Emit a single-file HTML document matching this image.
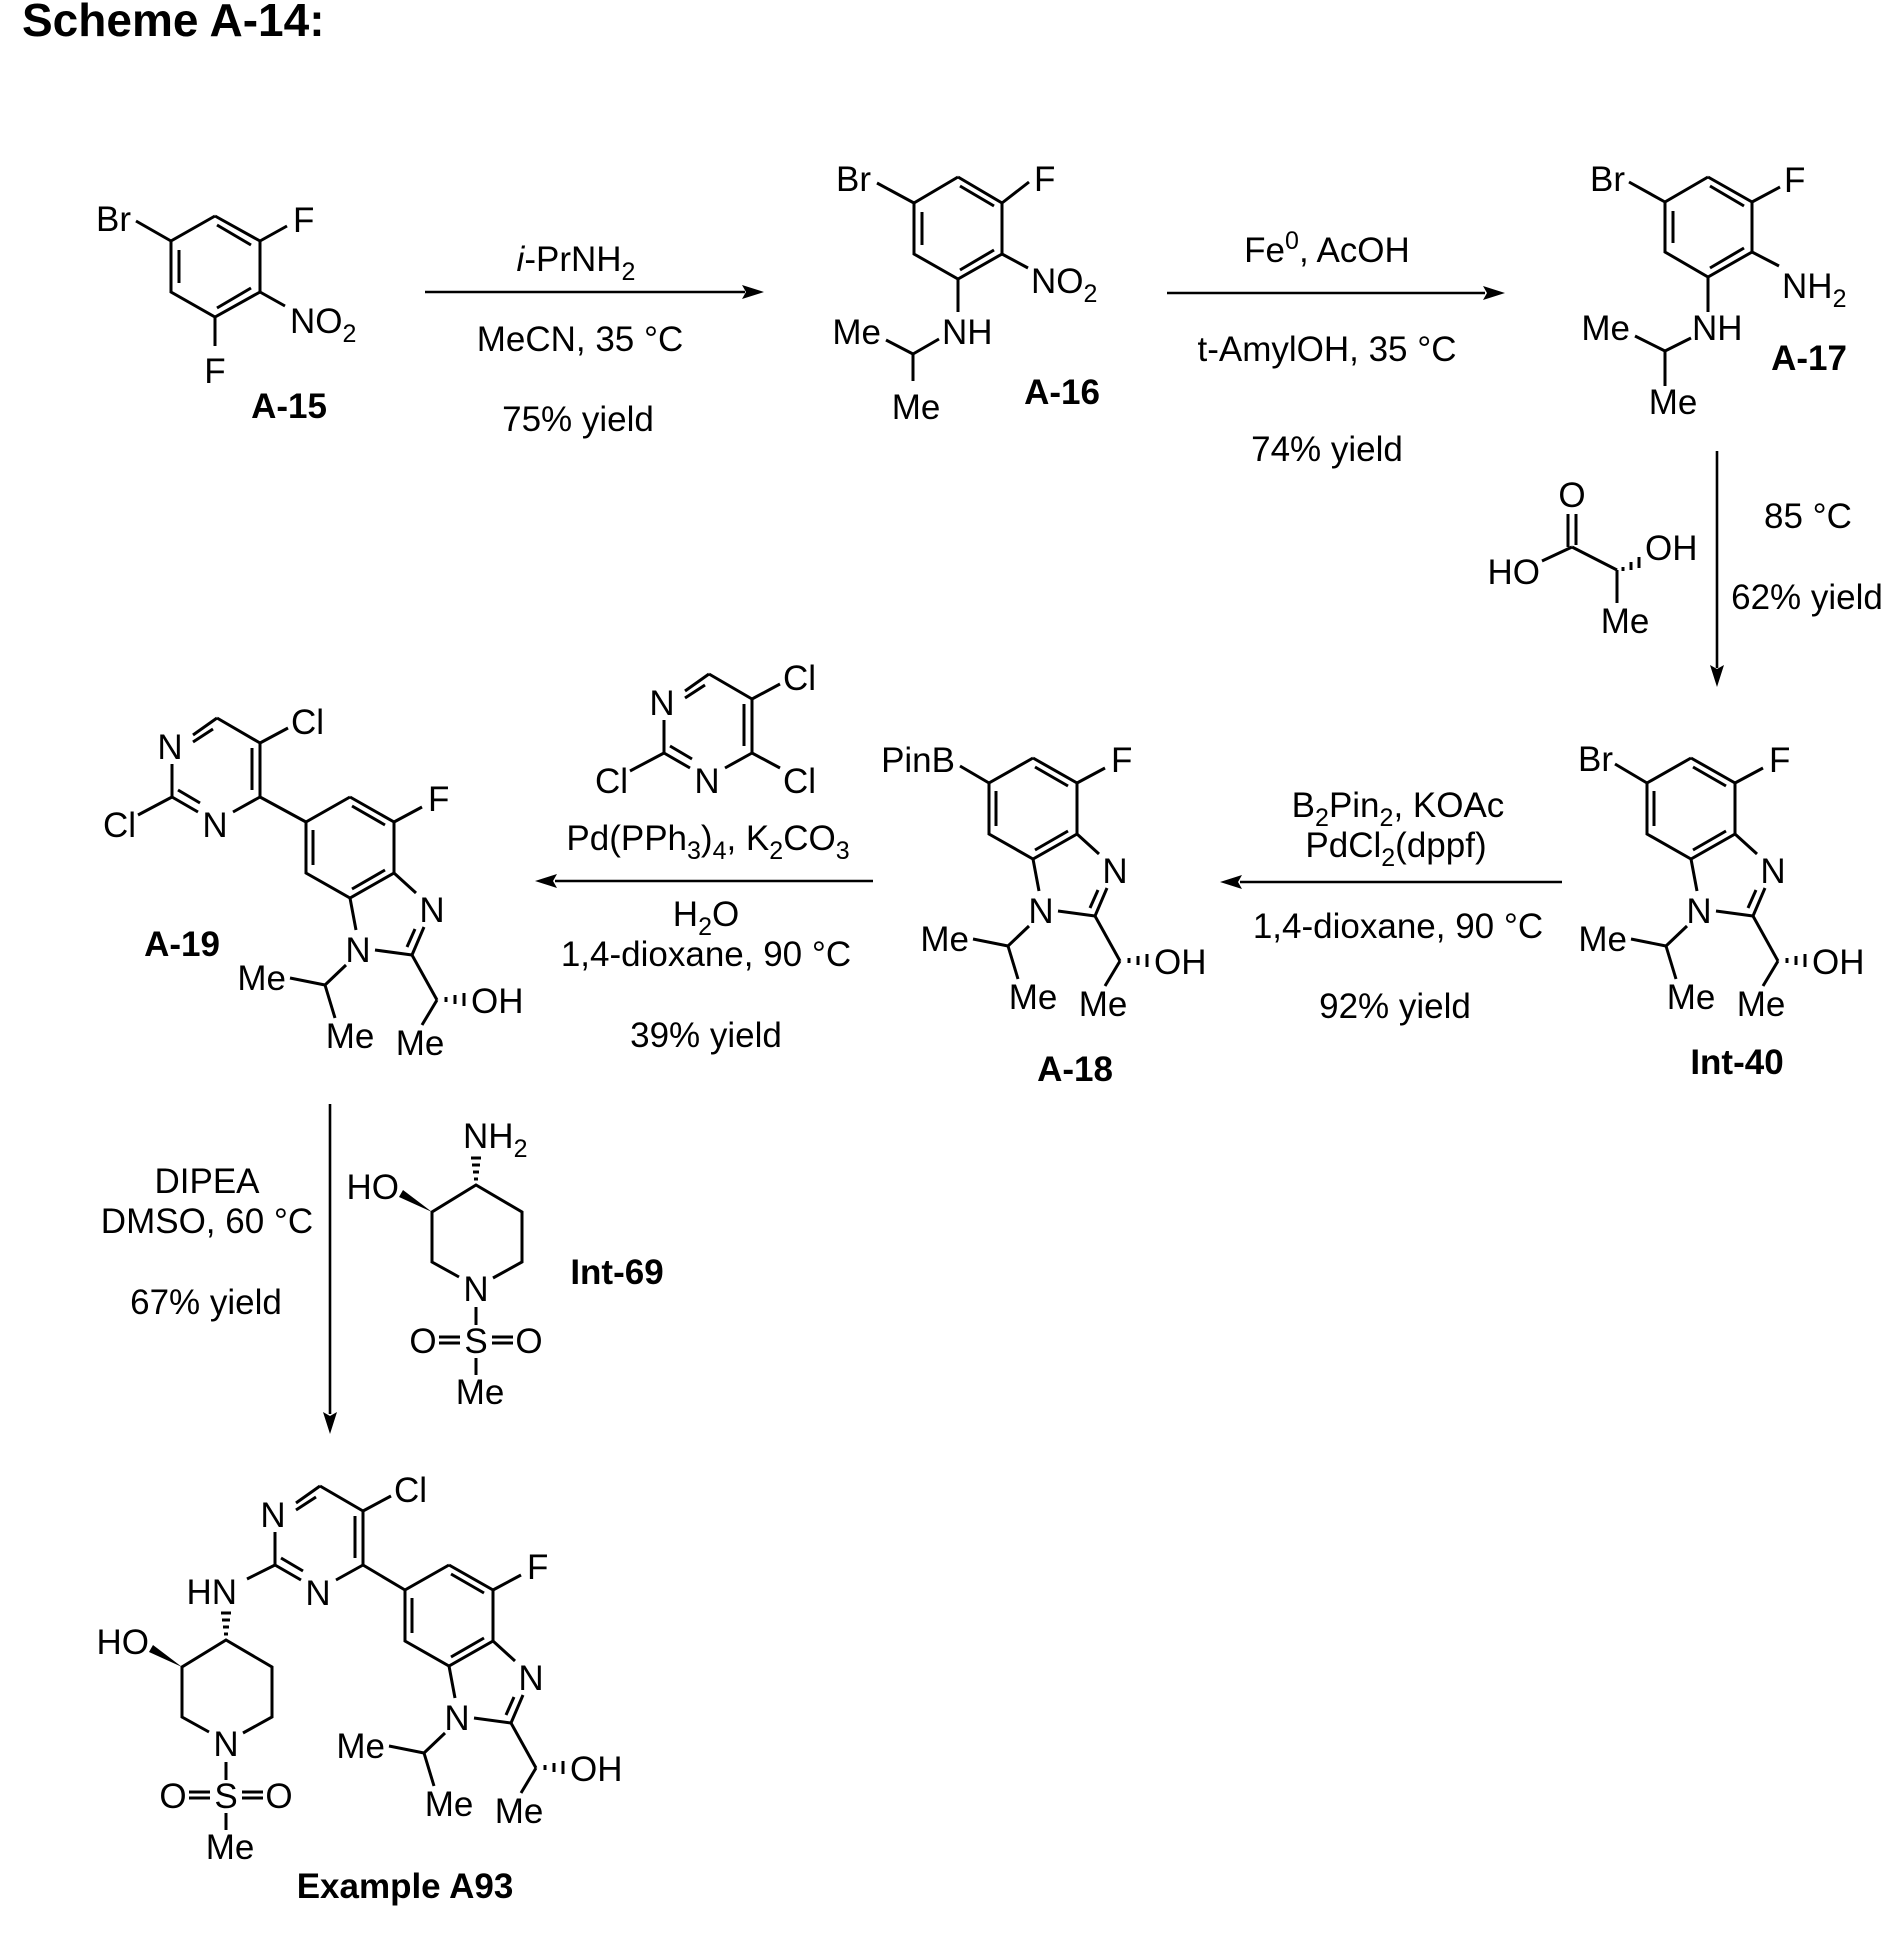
<!DOCTYPE html>
<html><head><meta charset="utf-8"><style>
html,body{margin:0;padding:0;background:#fff;}
svg{display:block;}
text{font-family:"Liberation Sans",Arial,sans-serif;font-size:35px;fill:#000;}
.b{font-weight:bold;}
.sub{font-size:25px;}
line,polyline{stroke:#000;stroke-width:3;fill:none;stroke-linecap:butt;}
.ar{stroke-width:2.6;}
</style></head><body>
<svg width="1890" height="1949" viewBox="0 0 1890 1949" xmlns="http://www.w3.org/2000/svg">
<text x="22" y="36" class="b" style="font-size:46px">Scheme A-14:</text>

<!-- A-15 -->
<g>
<polyline points="215,216 260,241 260,292 215,317 171,292 171,241 215,216"/>
<line x1="217" y1="225" x2="251" y2="245"/>
<line x1="251" y1="288" x2="217" y2="308"/>
<line x1="179" y1="250" x2="179" y2="283"/>
<line x1="171" y1="241" x2="136" y2="221"/>
<text x="96" y="231">Br</text>
<line x1="260" y1="241" x2="287" y2="226"/>
<text x="293" y="232">F</text>
<line x1="260" y1="292" x2="285" y2="306"/>
<text x="290" y="333">NO<tspan class="sub" dy="9">2</tspan></text>
<line x1="215" y1="317" x2="215" y2="346"/>
<text x="215" y="383" text-anchor="middle">F</text>
<text x="289" y="418" class="b" text-anchor="middle">A-15</text>
</g>

<!-- arrow 1 -->
<line class="ar" x1="425" y1="292" x2="745" y2="292"/>
<polygon points="764,292 742,285 746,292 742,299"/>
<text x="576" y="271" text-anchor="middle"><tspan font-style="italic">i</tspan>-PrNH<tspan class="sub" dy="9">2</tspan></text>
<text x="580" y="351" text-anchor="middle">MeCN, 35 °C</text>
<text x="578" y="431" text-anchor="middle">75% yield</text>

<!-- A-16 -->
<g>
<polyline points="958,177 1002,203 1002,254 958,279 914,254 914,203 958,177"/>
<line x1="960" y1="186" x2="994" y2="206"/>
<line x1="994" y1="250" x2="960" y2="270"/>
<line x1="922" y1="212" x2="922" y2="245"/>
<line x1="914" y1="203" x2="877" y2="183"/>
<text x="836" y="191">Br</text>
<line x1="1002" y1="203" x2="1029" y2="182"/>
<text x="1034" y="191">F</text>
<line x1="1002" y1="254" x2="1028" y2="268"/>
<text x="1031" y="293">NO<tspan class="sub" dy="9">2</tspan></text>
<line x1="958" y1="279" x2="958" y2="312"/>
<text x="942" y="344">NH</text>
<line x1="939" y1="339" x2="913" y2="354"/>
<line x1="913" y1="354" x2="886" y2="340"/>
<text x="881" y="344" text-anchor="end">Me</text>
<line x1="913" y1="354" x2="913" y2="381"/>
<text x="916" y="419" text-anchor="middle">Me</text>
<text x="1062" y="404" class="b" text-anchor="middle">A-16</text>
</g>

<!-- arrow 2 -->
<line class="ar" x1="1167" y1="293" x2="1485" y2="293"/>
<polygon points="1505,293 1483,286 1487,293 1483,300"/>
<text x="1327" y="262" text-anchor="middle">Fe<tspan class="sub" dy="-13">0</tspan><tspan dy="13">, AcOH</tspan></text>
<text x="1327" y="361" text-anchor="middle">t-AmylOH, 35 °C</text>
<text x="1327" y="461" text-anchor="middle">74% yield</text>

<!-- A-17 -->
<g>
<polyline points="1708,177 1752,202 1752,252 1708,277 1665,252 1665,202 1708,177"/>
<line x1="1710" y1="186" x2="1744" y2="206"/>
<line x1="1744" y1="248" x2="1710" y2="268"/>
<line x1="1673" y1="211" x2="1673" y2="243"/>
<line x1="1665" y1="202" x2="1629" y2="182"/>
<text x="1625" y="191" text-anchor="end">Br</text>
<line x1="1752" y1="202" x2="1780" y2="187"/>
<text x="1784" y="192">F</text>
<line x1="1752" y1="252" x2="1779" y2="266"/>
<text x="1782" y="298">NH<tspan class="sub" dy="9">2</tspan></text>
<line x1="1708" y1="277" x2="1708" y2="312"/>
<text x="1692" y="340">NH</text>
<line x1="1691" y1="338" x2="1665" y2="351"/>
<line x1="1665" y1="351" x2="1635" y2="336"/>
<text x="1630" y="340" text-anchor="end">Me</text>
<line x1="1665" y1="351" x2="1665" y2="386"/>
<text x="1673" y="414" text-anchor="middle">Me</text>
<text x="1809" y="370" class="b" text-anchor="middle">A-17</text>
</g>

<!-- down arrow 1 + lactic acid -->
<line class="ar" x1="1717" y1="451" x2="1717" y2="668"/>
<polygon points="1717,687 1710,665 1717,669 1724,665"/>
<text x="1808" y="528" text-anchor="middle">85 °C</text>
<text x="1807" y="609" text-anchor="middle">62% yield</text>
<text x="1572" y="507" text-anchor="middle">O</text>
<line x1="1568" y1="514" x2="1568" y2="547"/>
<line x1="1576" y1="514" x2="1576" y2="545"/>
<line x1="1572" y1="547" x2="1542" y2="561"/>
<text x="1540" y="584" text-anchor="end">HO</text>
<line x1="1572" y1="547" x2="1617" y2="570"/>
<line x1="1623" y1="567" x2="1623" y2="571" stroke-width="2.5"/>
<line x1="1631" y1="562" x2="1631" y2="570" stroke-width="2.5"/>
<line x1="1639" y1="557" x2="1639" y2="568" stroke-width="2.5"/>
<text x="1645" y="560">OH</text>
<line x1="1617" y1="570" x2="1617" y2="603"/>
<text x="1625" y="633" text-anchor="middle">Me</text>

<!-- Int-40 -->
<g transform="translate(1691,758)">
<polyline points="0,0 44,25 44,76 0,101 -44,76 -44,25 0,0"/>
<line x1="2" y1="9" x2="35" y2="28"/>
<line x1="35" y1="73" x2="2" y2="92"/>
<line x1="-37" y1="33" x2="-37" y2="68"/>
<line x1="44" y1="25" x2="72" y2="10"/>
<text x="78" y="14">F</text>
<line x1="44" y1="76" x2="66" y2="96"/>
<text x="82" y="125" text-anchor="middle">N</text>
<line x1="0" y1="101" x2="6" y2="133"/>
<text x="8" y="165" text-anchor="middle">N</text>
<line x1="25" y1="153" x2="62" y2="158"/>
<line x1="62" y1="158" x2="74" y2="130"/>
<line x1="57" y1="150" x2="65" y2="132"/>
<line x1="62" y1="158" x2="87" y2="203"/>
<line x1="96" y1="200" x2="96" y2="205" stroke-width="2.5"/>
<line x1="105" y1="198" x2="105" y2="207" stroke-width="2.5"/>
<line x1="114" y1="196" x2="114" y2="209" stroke-width="2.5"/>
<text x="121" y="216">OH</text>
<line x1="87" y1="203" x2="72" y2="228"/>
<text x="70" y="258" text-anchor="middle">Me</text>
<line x1="-4" y1="168" x2="-25" y2="188"/>
<line x1="-25" y1="188" x2="-60" y2="181"/>
<text x="-64" y="193" text-anchor="end">Me</text>
<line x1="-25" y1="188" x2="-15" y2="221"/>
<text x="0" y="251" text-anchor="middle">Me</text>
<line x1="-44" y1="25" x2="-76" y2="6"/>
<text x="-78" y="13" text-anchor="end">Br</text>
</g>
<text x="1737" y="1074" class="b" text-anchor="middle">Int-40</text>

<!-- arrow 3 -->
<line class="ar" x1="1562" y1="882" x2="1240" y2="882"/>
<polygon points="1220,882 1242,875 1238,882 1242,889"/>
<text x="1398" y="817" text-anchor="middle">B<tspan class="sub" dy="9">2</tspan><tspan dy="-9">Pin</tspan><tspan class="sub" dy="9">2</tspan><tspan dy="-9">, KOAc</tspan></text>
<text x="1396" y="857" text-anchor="middle">PdCl<tspan class="sub" dy="9">2</tspan><tspan dy="-9">(dppf)</tspan></text>
<text x="1398" y="938" text-anchor="middle">1,4-dioxane, 90 °C</text>
<text x="1395" y="1018" text-anchor="middle">92% yield</text>

<!-- A-18 -->
<g transform="translate(1033,758)">
<polyline points="0,0 44,25 44,76 0,101 -44,76 -44,25 0,0"/>
<line x1="2" y1="9" x2="35" y2="28"/>
<line x1="35" y1="73" x2="2" y2="92"/>
<line x1="-37" y1="33" x2="-37" y2="68"/>
<line x1="44" y1="25" x2="72" y2="10"/>
<text x="78" y="14">F</text>
<line x1="44" y1="76" x2="66" y2="96"/>
<text x="82" y="125" text-anchor="middle">N</text>
<line x1="0" y1="101" x2="6" y2="133"/>
<text x="8" y="165" text-anchor="middle">N</text>
<line x1="25" y1="153" x2="62" y2="158"/>
<line x1="62" y1="158" x2="74" y2="130"/>
<line x1="57" y1="150" x2="65" y2="132"/>
<line x1="62" y1="158" x2="87" y2="203"/>
<line x1="96" y1="200" x2="96" y2="205" stroke-width="2.5"/>
<line x1="105" y1="198" x2="105" y2="207" stroke-width="2.5"/>
<line x1="114" y1="196" x2="114" y2="209" stroke-width="2.5"/>
<text x="121" y="216">OH</text>
<line x1="87" y1="203" x2="72" y2="228"/>
<text x="70" y="258" text-anchor="middle">Me</text>
<line x1="-4" y1="168" x2="-25" y2="188"/>
<line x1="-25" y1="188" x2="-60" y2="181"/>
<text x="-64" y="193" text-anchor="end">Me</text>
<line x1="-25" y1="188" x2="-15" y2="221"/>
<text x="0" y="251" text-anchor="middle">Me</text>
<line x1="-44" y1="25" x2="-73" y2="8"/>
<text x="-78" y="14" text-anchor="end">PinB</text>
</g>
<text x="1075" y="1081" class="b" text-anchor="middle">A-18</text>

<!-- arrow 4 + trichloropyrimidine -->
<line class="ar" x1="873" y1="881" x2="555" y2="881"/>
<polygon points="535,881 557,874 553,881 557,888"/>
<text x="708" y="850" text-anchor="middle">Pd(PPh<tspan class="sub" dy="9">3</tspan><tspan dy="-9">)</tspan><tspan class="sub" dy="9">4</tspan><tspan dy="-9">, K</tspan><tspan class="sub" dy="9">2</tspan><tspan dy="-9">CO</tspan><tspan class="sub" dy="9">3</tspan></text>
<text x="706" y="926" text-anchor="middle">H<tspan class="sub" dy="9">2</tspan><tspan dy="-9">O</tspan></text>
<text x="706" y="966" text-anchor="middle">1,4-dioxane, 90 °C</text>
<text x="706" y="1047" text-anchor="middle">39% yield</text>
<g transform="translate(752,753)">
<line x1="0" y1="0" x2="0" y2="-54"/>
<line x1="-8" y1="-49" x2="-8" y2="-7"/>
<line x1="0" y1="-54" x2="-43" y2="-79"/>
<line x1="-43" y1="-79" x2="-67" y2="-62"/>
<line x1="-47" y1="-68" x2="-67" y2="-55"/>
<text x="-90" y="-38" text-anchor="middle">N</text>
<line x1="-88" y1="-33" x2="-88" y2="0"/>
<line x1="-88" y1="0" x2="-62" y2="15"/>
<line x1="-82" y1="-7" x2="-60" y2="6"/>
<text x="-45" y="40" text-anchor="middle">N</text>
<line x1="-27" y1="15" x2="0" y2="0"/>
<line x1="0" y1="-54" x2="28" y2="-69"/>
<text x="31" y="-63">Cl</text>
<line x1="0" y1="0" x2="28" y2="15"/>
<text x="31" y="40">Cl</text>
<line x1="-88" y1="0" x2="-122" y2="18"/>
<text x="-124" y="40" text-anchor="end">Cl</text>
</g>

<!-- A-19 -->
<g transform="translate(350,797)">
<polyline points="0,0 44,25 44,76 0,101 -44,76 -44,25 0,0"/>
<line x1="2" y1="9" x2="35" y2="28"/>
<line x1="35" y1="73" x2="2" y2="92"/>
<line x1="-37" y1="33" x2="-37" y2="68"/>
<line x1="44" y1="25" x2="72" y2="10"/>
<text x="78" y="14">F</text>
<line x1="44" y1="76" x2="66" y2="96"/>
<text x="82" y="125" text-anchor="middle">N</text>
<line x1="0" y1="101" x2="6" y2="133"/>
<text x="8" y="165" text-anchor="middle">N</text>
<line x1="25" y1="153" x2="62" y2="158"/>
<line x1="62" y1="158" x2="74" y2="130"/>
<line x1="57" y1="150" x2="65" y2="132"/>
<line x1="62" y1="158" x2="87" y2="203"/>
<line x1="96" y1="200" x2="96" y2="205" stroke-width="2.5"/>
<line x1="105" y1="198" x2="105" y2="207" stroke-width="2.5"/>
<line x1="114" y1="196" x2="114" y2="209" stroke-width="2.5"/>
<text x="121" y="216">OH</text>
<line x1="87" y1="203" x2="72" y2="228"/>
<text x="70" y="258" text-anchor="middle">Me</text>
<line x1="-4" y1="168" x2="-25" y2="188"/>
<line x1="-25" y1="188" x2="-60" y2="181"/>
<text x="-64" y="193" text-anchor="end">Me</text>
<line x1="-25" y1="188" x2="-15" y2="221"/>
<text x="0" y="251" text-anchor="middle">Me</text>
<line x1="-44" y1="25" x2="-90" y2="0"/>
</g>
<g transform="translate(260,797)">
<line x1="0" y1="0" x2="0" y2="-54"/>
<line x1="-8" y1="-49" x2="-8" y2="-7"/>
<line x1="0" y1="-54" x2="-43" y2="-79"/>
<line x1="-43" y1="-79" x2="-67" y2="-62"/>
<line x1="-47" y1="-68" x2="-67" y2="-55"/>
<text x="-90" y="-38" text-anchor="middle">N</text>
<line x1="-88" y1="-33" x2="-88" y2="0"/>
<line x1="-88" y1="0" x2="-62" y2="15"/>
<line x1="-82" y1="-7" x2="-60" y2="6"/>
<text x="-45" y="40" text-anchor="middle">N</text>
<line x1="-27" y1="15" x2="0" y2="0"/>
<line x1="0" y1="-54" x2="28" y2="-69"/>
<text x="31" y="-63">Cl</text>
<line x1="-88" y1="0" x2="-122" y2="18"/>
<text x="-124" y="40" text-anchor="end">Cl</text>
</g>
<text x="182" y="956" class="b" text-anchor="middle">A-19</text>

<!-- down arrow 2 -->
<line class="ar" x1="330" y1="1104" x2="330" y2="1414"/>
<polygon points="330,1434 323,1412 330,1416 337,1412"/>
<text x="207" y="1193" text-anchor="middle">DIPEA</text>
<text x="207" y="1233" text-anchor="middle">DMSO, 60 °C</text>
<text x="206" y="1314" text-anchor="middle">67% yield</text>

<!-- Int-69 -->
<g transform="translate(476,1185)">
<polyline points="-17,92 -44,77 -44,27 0,0 46,27 46,77 17,93"/>
<text x="0" y="116" text-anchor="middle">N</text>
<polygon points="-44,27 -73,5 -77,12" fill="#000" stroke="none"/>
<text x="-77" y="14" text-anchor="end">HO</text>
<line x1="-2" y1="-6" x2="2" y2="-6" stroke-width="2.5"/>
<line x1="-3" y1="-13" x2="3" y2="-13" stroke-width="2.5"/>
<line x1="-4" y1="-20" x2="4" y2="-20" stroke-width="2.5"/>
<line x1="-5" y1="-27" x2="5" y2="-27" stroke-width="2.5"/>
<text x="-13" y="-37">NH<tspan class="sub" dy="9">2</tspan></text>
<line x1="0" y1="122" x2="0" y2="140"/>
<text x="0" y="168" text-anchor="middle">S</text>
<text x="-53" y="168" text-anchor="middle">O</text>
<text x="53" y="168" text-anchor="middle">O</text>
<line x1="-37" y1="152" x2="-16" y2="152"/>
<line x1="-37" y1="158" x2="-16" y2="158"/>
<line x1="16" y1="152" x2="37" y2="152"/>
<line x1="16" y1="158" x2="37" y2="158"/>
<line x1="0" y1="173" x2="0" y2="190"/>
<text x="4" y="219" text-anchor="middle">Me</text>
</g>
<text x="617" y="1284" class="b" text-anchor="middle">Int-69</text>

<!-- Example A93 -->
<g transform="translate(449,1565)">
<polyline points="0,0 44,25 44,76 0,101 -44,76 -44,25 0,0"/>
<line x1="2" y1="9" x2="35" y2="28"/>
<line x1="35" y1="73" x2="2" y2="92"/>
<line x1="-37" y1="33" x2="-37" y2="68"/>
<line x1="44" y1="25" x2="72" y2="10"/>
<text x="78" y="14">F</text>
<line x1="44" y1="76" x2="66" y2="96"/>
<text x="82" y="125" text-anchor="middle">N</text>
<line x1="0" y1="101" x2="6" y2="133"/>
<text x="8" y="165" text-anchor="middle">N</text>
<line x1="25" y1="153" x2="62" y2="158"/>
<line x1="62" y1="158" x2="74" y2="130"/>
<line x1="57" y1="150" x2="65" y2="132"/>
<line x1="62" y1="158" x2="87" y2="203"/>
<line x1="96" y1="200" x2="96" y2="205" stroke-width="2.5"/>
<line x1="105" y1="198" x2="105" y2="207" stroke-width="2.5"/>
<line x1="114" y1="196" x2="114" y2="209" stroke-width="2.5"/>
<text x="121" y="216">OH</text>
<line x1="87" y1="203" x2="72" y2="228"/>
<text x="70" y="258" text-anchor="middle">Me</text>
<line x1="-4" y1="168" x2="-25" y2="188"/>
<line x1="-25" y1="188" x2="-60" y2="181"/>
<text x="-64" y="193" text-anchor="end">Me</text>
<line x1="-25" y1="188" x2="-15" y2="221"/>
<text x="0" y="251" text-anchor="middle">Me</text>
<line x1="-44" y1="25" x2="-86" y2="0"/>
</g>
<g transform="translate(363,1565)">
<line x1="0" y1="0" x2="0" y2="-54"/>
<line x1="-8" y1="-49" x2="-8" y2="-7"/>
<line x1="0" y1="-54" x2="-43" y2="-79"/>
<line x1="-43" y1="-79" x2="-67" y2="-62"/>
<line x1="-47" y1="-68" x2="-67" y2="-55"/>
<text x="-90" y="-38" text-anchor="middle">N</text>
<line x1="-88" y1="-33" x2="-88" y2="0"/>
<line x1="-88" y1="0" x2="-62" y2="15"/>
<line x1="-82" y1="-7" x2="-60" y2="6"/>
<text x="-45" y="40" text-anchor="middle">N</text>
<line x1="-27" y1="15" x2="0" y2="0"/>
<line x1="0" y1="-54" x2="28" y2="-69"/>
<text x="31" y="-63">Cl</text>
<line x1="-88" y1="0" x2="-116" y2="14"/>
</g>
<text x="237" y="1604" text-anchor="end">HN</text>
<g transform="translate(226,1640)">
<polyline points="-17,92 -44,77 -44,27 0,0 46,27 46,77 17,93"/>
<text x="0" y="116" text-anchor="middle">N</text>
<polygon points="-44,27 -73,5 -77,12" fill="#000" stroke="none"/>
<text x="-77" y="14" text-anchor="end">HO</text>
<line x1="-2" y1="-6" x2="2" y2="-6" stroke-width="2.5"/>
<line x1="-3" y1="-13" x2="3" y2="-13" stroke-width="2.5"/>
<line x1="-4" y1="-20" x2="4" y2="-20" stroke-width="2.5"/>
<line x1="-5" y1="-27" x2="5" y2="-27" stroke-width="2.5"/>
<line x1="0" y1="122" x2="0" y2="140"/>
<text x="0" y="168" text-anchor="middle">S</text>
<text x="-53" y="168" text-anchor="middle">O</text>
<text x="53" y="168" text-anchor="middle">O</text>
<line x1="-37" y1="152" x2="-16" y2="152"/>
<line x1="-37" y1="158" x2="-16" y2="158"/>
<line x1="16" y1="152" x2="37" y2="152"/>
<line x1="16" y1="158" x2="37" y2="158"/>
<line x1="0" y1="173" x2="0" y2="190"/>
<text x="4" y="219" text-anchor="middle">Me</text>
</g>
<text x="405" y="1898" class="b" text-anchor="middle">Example A93</text>
</svg>
</body></html>
